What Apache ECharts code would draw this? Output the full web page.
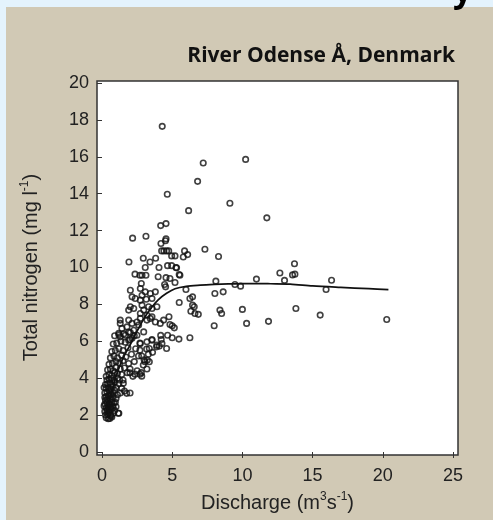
<!DOCTYPE html>
<html><head><meta charset="utf-8">
<script src="https://cdn.jsdelivr.net/npm/echarts@6/dist/echarts.min.js"></script>
<style>html,body{margin:0;padding:0;background:#d1c9b5}#c{width:493px;height:520px}</style>
</head><body><div id="c"></div><script>
// Observations: [discharge (m3/s), total nitrogen (mg/l)]
const observations = [
 // sparse upper / right points
 [4.29,17.65],[7.21,15.66],[10.23,15.86],[6.81,14.67],[4.65,13.97],[9.11,13.48],[6.17,13.08],[11.74,12.69],
 [4.18,12.27],[4.56,12.38],[2.18,11.59],[3.13,11.69],[4.2,11.3],[4.56,11.55],[4.52,11.45],
 [4.25,10.9],[4.41,10.9],[4.6,10.9],[4.75,10.9],[5.88,10.9],[7.33,10.99],[4.96,10.63],[5.2,10.63],[5.79,10.57],[6.1,10.7],[8.3,10.6],
 [1.92,10.3],[2.94,10.5],[3.42,10.3],[3.82,10.5],[3.08,10.0],[4.06,10.0],[4.67,10.1],[4.96,10.1],[5.27,10.0],
 [2.35,9.64],[2.7,9.58],[3.13,9.58],[4.0,9.5],[4.56,9.45],[5.5,9.62],[12.67,9.7],[13.0,9.3],[8.11,9.26],[11.0,9.37],
 [5.31,9.98],[5.55,9.58],[4.84,9.4],[5.2,9.19],[4.53,8.95],[5.98,8.81],[8.04,8.59],[8.63,8.68],[5.5,8.1],
 [6.26,8.32],[6.45,8.41],[6.45,7.96],[6.57,7.87],[6.33,7.63],[6.62,7.51],[6.86,7.46],[8.4,7.69],[8.52,7.51],[7.99,6.84],
 [4.77,7.33],[4.84,6.91],[5.0,6.84],[5.15,6.73],[4.67,6.33],[5.0,6.19],[5.48,6.12],[6.26,6.19],[4.6,5.61],
 [9.47,9.08],[9.87,8.99],[10.0,7.73],[11.86,7.08],[10.3,6.97],[3.56,6.1],[4.18,6.32],[4.22,6.1],[3.89,5.7],[4.08,5.74],
 [13.71,10.2],[13.57,9.6],[13.74,9.64],[16.35,9.31],[15.96,8.81],[13.81,7.78],[15.54,7.42],[20.28,7.18],
 // upper-middle cluster
 [2.85,9.58],[2.8,9.13],[4.46,9.08],[2.02,8.77],[2.73,8.86],[3.08,8.68],[3.44,8.59],[3.8,8.68],[2.85,8.5],
 [2.14,8.41],[2.37,8.32],[2.73,8.23],[3.15,8.28],[3.56,8.32],
 [2.02,7.87],[2.26,7.78],[1.9,7.69],[2.85,7.96],[3.32,7.87],[2.97,7.69],[3.56,7.78],[3.91,7.87],
 [2.73,7.51],[3.2,7.42],[3.56,7.33],
 [1.3,7.15],[1.3,6.97],[1.9,7.15],[2.14,6.97],[2.49,7.05],[2.73,7.24],[3.2,7.15],[3.44,7.24],[3.8,7.05],[4.15,6.97],[4.39,7.15],
 [1.42,6.7],[1.78,6.78],[2.02,6.48],[2.26,6.6],[2.61,6.88],[2.97,6.51],
 [1.19,6.43],[1.3,6.24],[1.66,6.33],[1.9,6.06],[2.14,6.16],[2.49,6.33],[2.73,5.88],[3.2,5.97],[3.56,6.06],[3.91,5.79],[4.27,5.88],
 [2.7,5.52],[3.18,5.58],[3.37,5.61],[2.83,5.2],[3.23,4.98],[3.06,4.89],[3.37,4.89],[2.94,4.71],[2.7,4.22],[2.83,4.11],
 [2.35,4.22],[1.99,4.29],[1.52,3.72],[1.76,3.18],[1.16,2.1],
 // middle band
 [0.3,4.1],[0.5,4.2],[0.7,4.15],[0.9,4.3],[1.1,4.25],[1.4,4.2],[1.8,4.3],[2.2,4.1],[0.4,4.45],[0.6,4.5],[0.8,4.4],[1.0,4.6],
 [1.3,4.5],[1.6,4.55],[2.0,4.5],[2.5,4.4],[2.8,4.3],[3.2,4.5],[0.5,4.75],[0.75,4.8],[1.0,4.9],[1.25,4.8],[1.5,4.95],[1.9,4.8],
 [2.3,4.9],[0.6,5.1],[0.85,5.2],[1.1,5.1],[1.4,5.25],[1.7,5.15],[2.1,5.3],[2.6,5.2],[3.0,5.0],[0.7,5.45],[0.95,5.5],[1.2,5.6],
 [1.5,5.5],[1.85,5.65],[2.4,5.6],[3.3,5.3],[0.8,5.85],[1.05,5.9],[1.35,6.0],[1.65,5.95],[2.0,6.1],[2.7,5.9],[3.6,5.4],
 [0.9,6.3],[1.2,6.35],[1.55,6.4],[1.9,6.5],[2.3,6.3],
 // dense lower blob
 [0.3,1.85],[0.45,1.8],[0.55,1.82],[0.7,1.9],[0.25,2.0],[0.4,2.05],[0.6,2.0],[0.8,2.1],[1.2,2.1],[0.2,2.2],[0.35,2.25],[0.5,2.2],
 [0.65,2.3],[0.9,2.25],[0.3,2.4],[0.45,2.45],[0.6,2.4],[0.75,2.5],[1.0,2.45],[0.2,2.6],[0.35,2.65],[0.5,2.6],[0.7,2.7],[0.85,2.65],
 [0.25,2.8],[0.4,2.85],[0.55,2.9],[0.7,2.85],[1.0,2.9],[0.3,3.0],[0.45,3.05],[0.6,3.1],[0.8,3.0],[1.1,3.1],[0.2,3.2],[0.35,3.25],
 [0.5,3.3],[0.65,3.2],[0.9,3.35],[1.3,3.2],[0.3,3.45],[0.45,3.5],[0.6,3.4],[0.75,3.55],[1.0,3.5],[1.4,3.45],[0.25,3.65],[0.4,3.7],
 [0.55,3.75],[0.7,3.65],[0.9,3.8],[1.2,3.7],[0.35,3.9],[0.5,3.95],[0.65,4.0],[0.85,3.9],[1.1,4.0],[1.5,3.9],[0.2,2.95],[0.15,2.5],
 [0.15,3.5],[0.8,3.2],[0.95,2.7],[0.55,2.55],[0.4,2.3],[0.65,1.95],[0.8,2.4],[1.25,3.9],[1.6,3.3],[2.0,3.2]
];
// Fitted curve
const fitCurve = [
 [0.3,2.0],[0.6,3.0],[1.0,4.1],[1.5,5.1],[2.0,5.8],[2.5,6.55],[3.0,7.25],[3.5,7.8],[4.0,8.25],[4.6,8.6],[5.2,8.85],
 [6,8.98],[7,9.04],[8,9.08],[9,9.11],[10,9.13],[11,9.13],[12,9.12],[13.4,9.1],[15,9.0],[17,8.92],[19,8.85],[20.4,8.8]
];
const xTicks = {min:0, max:25, step:5};
const yTicks = {min:0, max:20, step:2};
const titleText = 'River Odense Å, Denmark';

const sup = {fontSize:12, fontFamily:'Liberation Sans', color:'#222', verticalAlign:'top', lineHeight:24};
const norm = {fontSize:20, fontFamily:'Liberation Sans', color:'#222', lineHeight:24};

const chart = echarts.init(document.getElementById('c'), null, {renderer:'canvas'});
chart.setOption({
 animation:false,
 backgroundColor:'#d1c9b5',
 title:{text:titleText, right:38, top:46, padding:0,
   textStyle:{fontFamily:'Open Sans', fontWeight:'bold', fontSize:21, color:'#111'}},
 graphic:[
  {type:'rect', z:-10, shape:{x:0,y:0,width:493,height:7}, style:{fill:'#e4f3fd'}},
  {type:'rect', z:-10, shape:{x:0,y:0,width:6,height:520}, style:{fill:'#e4f3fd'}},
  {type:'rect', z:-5, shape:{x:97,y:81,width:361,height:374}, style:{fill:'#ffffff', stroke:'#333', lineWidth:1.5}},
  {type:'text', z:10, style:{text:'y', x:453, y:9, fontSize:34, fontWeight:'bold', fontFamily:'Open Sans', fill:'#000', verticalAlign:'bottom'}}
 ],
 grid:{left:102, top:83, width:351, height:369},
 xAxis:{type:'value', min:xTicks.min, max:xTicks.max, interval:xTicks.step, offset:3,
   axisLine:{show:false}, splitLine:{show:false},
   axisTick:{show:true, length:6, lineStyle:{color:'#333', width:1}},
   axisLabel:{margin:12, fontSize:18, color:'#222', fontFamily:'Liberation Sans'},
   name:'{t|Discharge (m}{s|3}{t|s}{s|-1}{t|)}', nameLocation:'middle', nameGap:36,
   nameTextStyle:{rich:{t:norm, s:sup}}},
 yAxis:{type:'value', min:yTicks.min, max:yTicks.max, interval:yTicks.step, offset:5,
   axisLine:{show:false}, splitLine:{show:false},
   axisTick:{show:true, length:5, lineStyle:{color:'#333', width:1}},
   axisLabel:{margin:8, fontSize:18, color:'#222', fontFamily:'Liberation Sans'},
   name:'{t|Total nitrogen (mg l}{s|-1}{t|)}', nameLocation:'middle', nameGap:54,
   nameTextStyle:{rich:{t:norm, s:sup}}},
 series:[
  {type:'scatter', data:observations, symbol:'circle', symbolSize:5.5,
   itemStyle:{color:'rgba(255,255,255,0)', borderColor:'#111', borderWidth:1.6}},
  {type:'line', data:fitCurve, smooth:0.3, showSymbol:false, symbol:'none',
   lineStyle:{color:'#111', width:1.7}}
 ]
});
</script></body></html>
